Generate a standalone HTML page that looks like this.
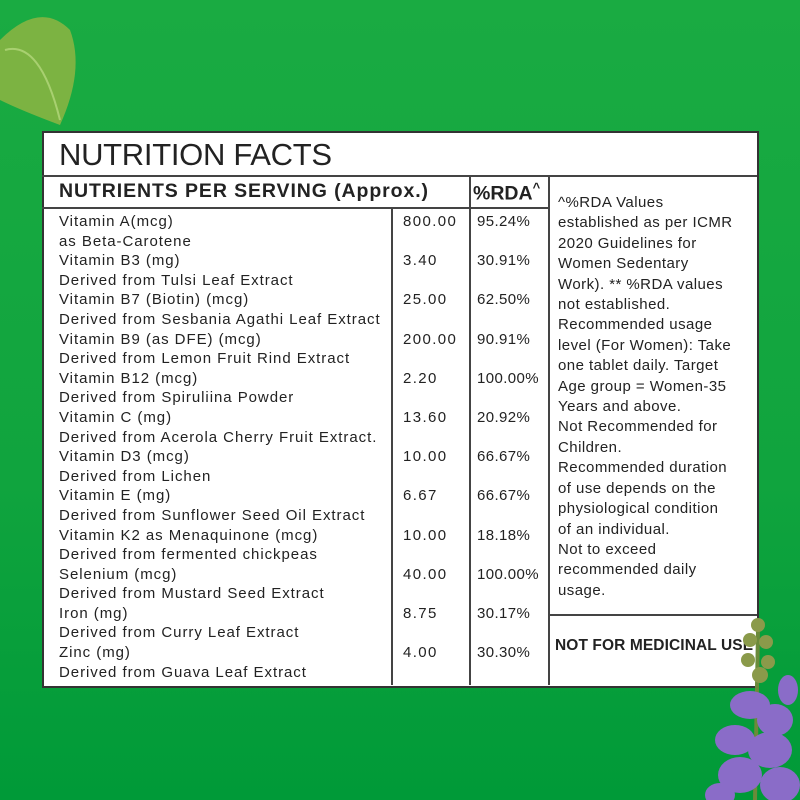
<!DOCTYPE html>
<html><head><meta charset="utf-8"><style>
body{margin:0;width:800px;height:800px;overflow:hidden;background:linear-gradient(#1aab42,#10a43e 60%,#009a38);font-family:"Liberation Sans",sans-serif;color:#222;position:relative}
.box{position:absolute;left:42px;top:131px;width:713px;height:553px;background:#fff;border:2px solid #333}
.l{position:absolute;background:#444}
.t{position:absolute;white-space:nowrap}
.c{position:absolute;font-size:15px;line-height:19.6px;white-space:pre}
</style></head><body>
<svg style="position:absolute;left:0;top:0" width="90" height="135"><path d="M0 40 Q40 0 70 30 Q85 70 60 125 Q20 110 0 100Z" fill="#7cb342"/><path d="M5 50 Q40 40 60 120" stroke="#a8d070" fill="none" stroke-width="2"/></svg>
<div class="box"></div>
<div class="l" style="left:42px;top:175px;width:715px;height:2px"></div>
<div class="l" style="left:42px;top:207px;width:508px;height:2px"></div>
<div class="l" style="left:391px;top:207px;width:2px;height:478px"></div>
<div class="l" style="left:469px;top:175px;width:2px;height:510px"></div>
<div class="l" style="left:548px;top:175px;width:2px;height:510px"></div>
<div class="l" style="left:548px;top:614px;width:209px;height:2px"></div>
<div class="t" style="left:59px;top:137px;font-size:31px;letter-spacing:-0.3px">NUTRITION FACTS</div>
<div class="t" style="left:59px;top:180px;font-size:19.5px;font-weight:bold;letter-spacing:0.9px">NUTRIENTS PER SERVING (Approx.)</div>
<div class="t" style="left:473px;top:180px;font-size:19.5px;font-weight:bold">%RDA<sup style="font-size:13px">^</sup></div>
<div class="c" style="left:59px;top:212px;letter-spacing:0.95px">Vitamin A(mcg)
as Beta-Carotene
Vitamin B3 (mg)
Derived from Tulsi Leaf Extract
Vitamin B7 (Biotin) (mcg)
Derived from Sesbania Agathi Leaf Extract
Vitamin B9 (as DFE) (mcg)
Derived from Lemon Fruit Rind Extract
Vitamin B12 (mcg)
Derived from Spiruliina Powder
Vitamin C (mg)
Derived from Acerola Cherry Fruit Extract.
Vitamin D3 (mcg)
Derived from Lichen
Vitamin E (mg)
Derived from Sunflower Seed Oil Extract
Vitamin K2 as Menaquinone (mcg)
Derived from fermented chickpeas
Selenium (mcg)
Derived from Mustard Seed Extract
Iron (mg)
Derived from Curry Leaf Extract
Zinc (mg)
Derived from Guava Leaf Extract</div>
<div class="c" style="left:403px;top:212px;letter-spacing:1.4px">800.00

3.40

25.00

200.00

2.20

13.60

10.00

6.67

10.00

40.00

8.75

4.00</div>
<div class="c" style="left:477px;top:212px;letter-spacing:0.4px">95.24%

30.91%

62.50%

90.91%

100.00%

20.92%

66.67%

66.67%

18.18%

100.00%

30.17%

30.30%</div>
<div class="c" style="left:558px;top:193px;line-height:20.4px;letter-spacing:0.45px">^%RDA Values
established as per ICMR
2020 Guidelines for
Women Sedentary
Work). ** %RDA values
not established.
Recommended usage
level (For Women): Take
one tablet daily. Target
Age group = Women-35
Years and above.
Not Recommended for
Children.
Recommended duration
of use depends on the
physiological condition
of an individual.
Not to exceed
recommended daily
usage.</div>
<div class="t" style="left:555px;top:637px;font-size:15.5px;font-weight:bold;letter-spacing:0.1px">NOT FOR MEDICINAL USE</div>
<svg style="position:absolute;left:680px;top:610px" width="120" height="190">
<path d="M75 190 L78 20" stroke="#6b8a3a" stroke-width="4"/>
<g fill="#8a9a4a"><circle cx="78" cy="15" r="7"/><circle cx="70" cy="30" r="7"/><circle cx="86" cy="32" r="7"/><circle cx="68" cy="50" r="7"/><circle cx="88" cy="52" r="7"/><circle cx="80" cy="65" r="8"/></g>
<g fill="#8a6cc8"><ellipse cx="70" cy="95" rx="20" ry="14"/><ellipse cx="95" cy="110" rx="18" ry="16"/><ellipse cx="55" cy="130" rx="20" ry="15"/><ellipse cx="90" cy="140" rx="22" ry="18"/><ellipse cx="60" cy="165" rx="22" ry="18"/><ellipse cx="100" cy="175" rx="20" ry="18"/><ellipse cx="40" cy="185" rx="15" ry="12"/><ellipse cx="108" cy="80" rx="10" ry="15"/></g>
</svg>
</body></html>
